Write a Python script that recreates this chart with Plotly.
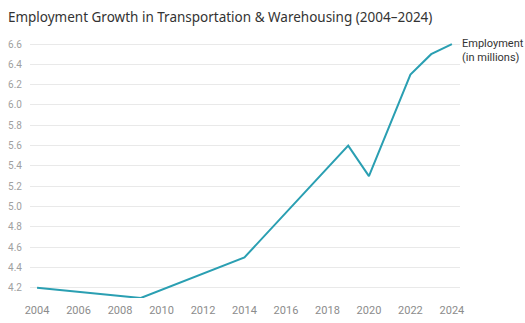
import plotly.graph_objects as go

# Employment in transportation & warehousing, millions
years = [2004, 2009, 2014, 2019, 2020, 2022, 2023, 2024]
employment = [4.2, 4.1, 4.5, 5.6, 5.3, 6.3, 6.5, 6.6]

x_ticks = list(range(2004, 2025, 2))
y_ticks = [round(4.2 + 0.2 * i, 1) for i in range(13)]

line_color = "#2a9fb2"
title_family = "Noto Sans, Open Sans, sans-serif"
label_family = "Roboto, sans-serif"

fig = go.Figure()
fig.add_trace(go.Scatter(
    x=years, y=employment, mode="lines",
    line=dict(color=line_color, width=2),
    showlegend=False, hoverinfo="x+y",
))

fig.add_annotation(
    x=years[-1], y=employment[-1], xref="x", yref="y",
    text="Employment<br>(in millions)", showarrow=False,
    xanchor="left", yanchor="top", xshift=8, yshift=9, align="left",
    font=dict(family=label_family, size=11, color="#333333"),
)

fig.update_layout(
    width=525, height=323,
    margin=dict(l=30, r=65, t=42, b=25),
    paper_bgcolor="white", plot_bgcolor="white",
    font=dict(family=label_family, color="#999999", size=11),
    title=dict(
        text="Employment Growth in Transportation & Warehousing (2004–2024)",
        x=0.015, xanchor="left", y=0.945, yanchor="middle",
        font=dict(family=title_family, size=13.5, color="#333333"),
    ),
    xaxis=dict(
        range=[2003.66, 2024.39], tickvals=x_ticks, automargin=False,
        showgrid=False, zeroline=False, showline=False, ticks="",
        ticklabelstandoff=4,
        tickfont=dict(family=label_family, size=11, color="#8c8c8c"),
    ),
    yaxis=dict(
        range=[4.1, 6.62], tickvals=y_ticks, tickformat=".1f", automargin=False,
        showgrid=True, gridcolor="#e9e9e9", gridwidth=1,
        zeroline=False, showline=False, ticks="",
        ticklabelstandoff=7,
        tickfont=dict(family=label_family, size=10, color="#a0a0a0"),
    ),
)

fig.write_html("out.html")
